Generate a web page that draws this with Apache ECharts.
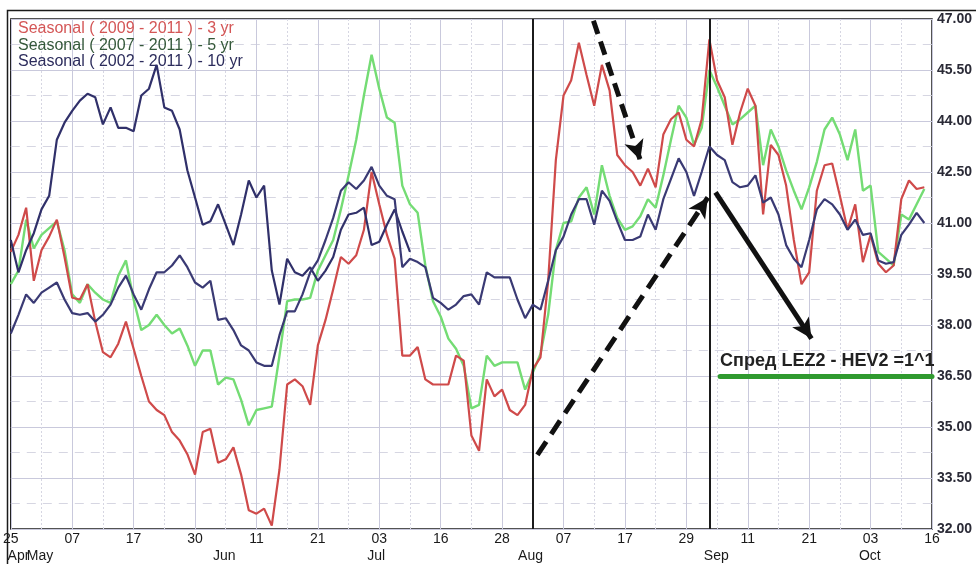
<!DOCTYPE html>
<html><head><meta charset="utf-8">
<script src="https://cdn.jsdelivr.net/npm/echarts@6/dist/echarts.min.js"></script>
<style>html,body{margin:0;padding:0;background:#fff}#c{width:976px;height:564px}</style>
</head><body><div id="c"></div>
<script>
// x positions are trading-day indexes starting at Apr 25 (labels every 8 trading days)
const tickLabels = ['25','07','17','30','11','21','03','16','28','07','17','29','11','21','03','16'];
const monthNames = ['May','Jun','Jul','Aug','Sep','Oct'];
const monthPos   = [3.8, 27.8, 47.6, 67.7, 91.9, 111.9];
const firstMonthName = ['Apr'];
const firstMonthPos  = [1.0];

const seasonal3yr = [40.15,40.65,41.45,39.3,40.2,40.6,41.1,40.0,38.8,38.75,
 39.2,38.1,37.2,37.05,37.45,38.1,37.3,36.5,35.75,35.5,
 35.35,34.85,34.6,34.2,33.6,34.85,34.95,33.95,34.05,34.4,
 33.6,32.55,32.45,32.6,32.1,33.75,36.25,36.4,36.2,35.65,
 37.4,38.15,39.05,40.0,39.8,40.05,40.8,42.5,41.55,40.65,
 39.95,37.1,37.1,37.35,36.4,36.25,36.25,36.25,37.1,36.95,
 34.75,34.3,36.4,35.9,36.1,35.5,35.35,35.65,36.7,37.05,
 39.3,42.85,44.75,45.2,46.3,45.35,44.45,45.65,44.9,43.0,
 42.7,42.5,42.1,42.6,42.05,43.6,44.05,44.25,43.45,43.25,
 44.05,46.4,45.2,44.7,43.3,44.25,44.95,44.45,41.25,43.3,
 43.0,42.1,40.5,39.2,39.55,41.95,42.7,42.75,41.8,40.8,
 41.55,39.85,40.65,39.8,39.55,39.75,41.7,42.25,42.0,42.05];

const seasonal5yr = [39.2,39.6,41.1,40.25,40.65,40.85,41.05,40.2,38.9,38.65,
 39.2,38.95,38.75,38.65,39.45,39.9,38.75,37.85,38.0,38.3,
 38.0,37.75,37.9,37.4,36.8,37.25,37.25,36.25,36.45,36.4,
 35.8,35.05,35.5,35.55,35.6,37.1,38.7,38.75,38.75,38.8,
 39.6,40.05,40.5,41.4,42.4,43.45,44.75,45.95,44.95,44.1,
 43.95,42.1,41.55,41.3,39.75,38.7,38.25,37.6,37.3,36.8,
 35.55,35.65,37.1,36.8,36.9,36.9,36.9,36.1,36.6,37.15,
 38.3,40.2,41.0,41.05,41.75,42.05,41.25,42.7,41.8,41.15,
 40.8,40.9,41.2,41.7,41.45,42.4,43.45,44.45,44.1,43.3,
 43.8,45.5,45.0,44.45,43.9,44.05,44.25,44.45,42.7,43.75,
 43.25,42.55,41.95,41.4,42.05,42.8,43.75,44.1,43.6,42.85,
 43.75,41.95,42.1,40.15,39.95,39.75,41.25,41.1,41.55,42.0];

const seasonal10yr = [37.75,38.3,38.9,38.65,38.95,39.1,39.25,38.75,38.35,38.3,
 38.35,38.1,38.3,38.6,39.1,39.45,38.9,38.45,39.05,39.55,
 39.55,39.75,40.05,39.7,39.25,39.1,39.3,38.15,38.2,37.85,
 37.4,37.25,36.9,36.8,36.8,37.7,38.4,38.4,38.9,39.55,
 39.9,40.5,41.15,41.95,42.2,42.0,42.25,42.65,42.1,41.8,
 41.7,39.7,39.95,39.85,39.7,38.8,38.65,38.45,38.6,38.85,
 38.9,38.6,39.55,39.4,39.4,39.4,38.75,38.2,38.6,38.45,
 39.3,40.2,40.6,41.25,41.7,41.7,40.95,41.95,41.65,41.05,
 40.5,40.5,40.6,41.25,40.8,41.7,42.3,42.9,42.5,41.8,
 42.5,43.25,43.0,42.85,42.2,42.05,42.1,42.4,41.6,41.75,
 41.25,40.35,39.95,39.7,40.5,41.4,41.7,41.55,41.25,40.8,
 41.1,40.65,40.7,39.9,39.8,39.85,40.65,40.95,41.3,41.0];

const current2012 = [40.5,39.55,40.2,40.7,41.4,41.8,43.45,43.95,44.3,44.6,
 44.8,44.7,43.9,44.4,43.8,43.8,43.7,44.75,44.95,45.65,
 44.4,44.3,43.75,42.55,41.75,40.95,41.05,41.55,40.95,40.35,
 41.25,42.25,41.75,42.1,39.6,38.6,39.95,39.55,39.45,39.7,
 39.3,39.6,40.0,40.8,41.25,41.3,41.45,40.35,40.45,40.95,
 41.4,40.75,40.15];

const entryIdx = 68, exitIdx = 91;

const toXY = a => a.map((v, i) => [i, v]);
const dark = '#1b1b1b';
const gridCol = '#c9c9dc';
const font = 'Liberation Sans';
const findLabel = (pos, names) => v => { const k = pos.findIndex(p => Math.abs(p - v) < 1e-6); return k >= 0 ? names[k] : ''; };

const chart = echarts.init(document.getElementById('c'), null, {renderer: 'canvas'});
chart.setOption({
  animation: false,
  backgroundColor: '#fff',
  grid: {left: 10, right: 44, top: 19, bottom: 35, show: true, borderColor: dark, borderWidth: 1.5, backgroundColor: 'transparent'},
  legend: {
    orient: 'vertical', left: 13, top: 21, padding: 0, itemGap: 0.5,
    itemWidth: 0, itemHeight: 0, selectedMode: false, icon: 'rect',
    textStyle: {fontFamily: font, fontSize: 16, lineHeight: 15},
    data: [
      {name: 'Seasonal ( 2009 - 2011 ) - 3 yr', textStyle: {color: '#d45656'}},
      {name: 'Seasonal ( 2007 - 2011 ) - 5 yr', textStyle: {color: '#34583a'}},
      {name: 'Seasonal ( 2002 - 2011 ) - 10 yr', textStyle: {color: '#2c2c5c'}}
    ]
  },
  xAxis: [{
    type: 'value', min: 0, max: 120, interval: 8,
    axisLine: {show: false}, axisTick: {show: false},
    axisLabel: {margin: 3, fontFamily: font, fontSize: 14, color: '#1a1a1a',
      formatter: v => tickLabels[Math.round(v / 8)] || ''},
    splitLine: {show: true, lineStyle: {color: gridCol, width: 1}},
    minorTick: {show: true, splitNumber: 2, length: 0, lineStyle: {opacity: 0}},
    minorSplitLine: {show: true, lineStyle: {color: '#d6d6e2', width: 1, type: [2, 2]}}
  }, {
    type: 'value', min: 0, max: 120, position: 'bottom', offset: 17,
    axisLine: {show: false}, axisTick: {show: false}, splitLine: {show: false},
    axisLabel: {margin: 3, fontFamily: font, fontSize: 14, color: '#1a1a1a',
      customValues: monthPos, formatter: findLabel(monthPos, monthNames)}
  }, {
    type: 'value', min: 0, max: 120, position: 'bottom', offset: 17,
    axisLine: {show: false}, axisTick: {show: false}, splitLine: {show: false},
    axisLabel: {margin: 3, fontFamily: font, fontSize: 14, color: '#1a1a1a',
      customValues: firstMonthPos, formatter: findLabel(firstMonthPos, firstMonthName)}
  }],
  yAxis: {
    type: 'value', position: 'right', min: 32, max: 47, interval: 1.5,
    axisLine: {show: false}, axisTick: {show: false},
    axisLabel: {margin: 5, fontFamily: font, fontSize: 14, fontWeight: 'bold', color: '#2a2a36', formatter: v => v.toFixed(2)},
    splitLine: {show: true, lineStyle: {color: gridCol, width: 1}},
    minorTick: {show: true, splitNumber: 2, length: 0, lineStyle: {opacity: 0}},
    minorSplitLine: {show: true, lineStyle: {color: '#d6d6e2', width: 1, type: [9, 7]}}
  },
  graphic: [{
    type: 'rect', silent: true, z: 100,
    shape: {x: 7.5, y: 10.5, width: 990, height: 600},
    style: {fill: 'none', stroke: dark, lineWidth: 1.5}
  }],
  series: [
    {name: 'Seasonal ( 2007 - 2011 ) - 5 yr', type: 'line', data: toXY(seasonal5yr), showSymbol: false,
      lineStyle: {color: '#74dc74', width: 2.4}, itemStyle: {color: '#74dc74'}, z: 2},
    {name: 'Seasonal ( 2009 - 2011 ) - 3 yr', type: 'line', data: toXY(seasonal3yr), showSymbol: false,
      lineStyle: {color: '#cf4a4a', width: 2.2}, itemStyle: {color: '#cf4a4a'}, z: 3},
    {name: 'Current', type: 'line', data: toXY(current2012), showSymbol: false,
      lineStyle: {color: '#30306a', width: 2.2}, itemStyle: {color: '#30306a'}, z: 4},
    {name: 'Seasonal ( 2002 - 2011 ) - 10 yr', type: 'line', data: toXY(seasonal10yr), showSymbol: false,
      lineStyle: {color: '#3a3a74', width: 2.2}, itemStyle: {color: '#3a3a74'}, z: 5,
      markLine: {
        silent: true, symbol: ['none', 'arrow'], symbolSize: [15, 20], precision: 4,
        label: {show: false}, emphasis: {disabled: true},
        data: [
          [{coord: [entryIdx, 32], symbol: 'none', lineStyle: {color: dark, width: 2, type: 'solid'}}, {coord: [entryIdx, 47], symbol: 'none'}],
          [{coord: [exitIdx, 32], symbol: 'none', lineStyle: {color: dark, width: 2, type: 'solid'}}, {coord: [exitIdx, 47], symbol: 'none'}],
          [{coord: [75.9, 46.95], lineStyle: {color: '#111', width: 5, type: [14, 8]}}, {coord: [82.0, 42.85]}],
          [{coord: [68.6, 34.18], lineStyle: {color: '#111', width: 5, type: [16, 9]}}, {coord: [90.8, 41.75]}],
          [{coord: [91.8, 41.9], lineStyle: {color: '#111', width: 5, type: 'solid'}}, {coord: [104.3, 37.6]}],
          [{coord: [92.4, 36.5], symbol: 'none', lineStyle: {color: '#2f9a2f', width: 5, type: 'solid', cap: 'round'},
            label: {show: true, position: 'insideStartTop', distance: [0, 6], formatter: 'Спред LEZ2 - HEV2 =1^1',
              fontFamily: font, fontSize: 18, fontWeight: 'bold', color: '#222'}},
           {coord: [120, 36.5], symbol: 'none'}]
        ]
      }}
  ]
});
</script></body></html>
